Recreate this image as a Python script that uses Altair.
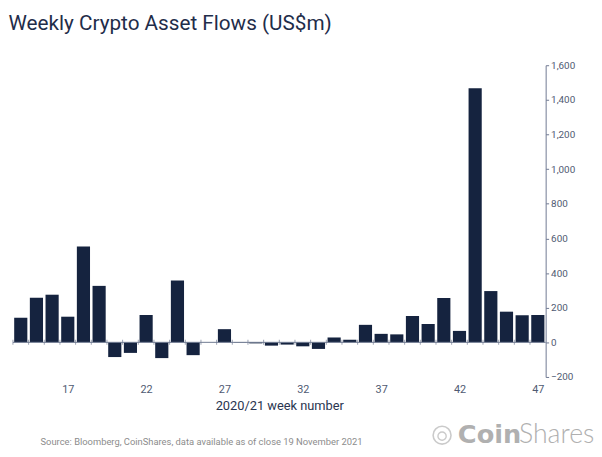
import altair as alt
import pandas as pd

weeks = list(range(14, 48))
flows = [142, 258, 275, 148, 554, 326, -85, -61, 158, -91, 357, -74, 0, 76,
         -2, -6, -19, -13, -23, -38, 28, 15, 101, 49, 46, 152, 106, 256, 66,
         1467, 296, 177, 156, 158]
x_label_weeks = [17, 22, 27, 32, 37, 42, 47]
y_ticks = [-200, 0, 200, 400, 600, 800, 1000, 1200, 1400, 1600]

title_text = "Weekly Crypto Asset Flows (US$m)"
x_title = "2020/21 week number"
source_text = "Source: Bloomberg, CoinShares, data available as of close 19 November 2021"

NAVY = "#15233f"
AXIS = "#6f7991"
LABEL = "#4f5a72"
FONT = "Roboto"

df = pd.DataFrame({"week": weeks, "flow": flows})

W, H = 540, 316
xscale = alt.Scale(domain=[13.5, 47.5], nice=False, zero=False)
yscale = alt.Scale(domain=[-200, 1600], nice=False, zero=False)

xaxis = alt.Axis(values=x_label_weeks, ticks=False, tickSize=0, domain=False,
                 grid=False, labelPadding=7, labelFontSize=11, labelColor=LABEL,
                 labelFont=FONT, title=x_title, titleFont=FONT, titleFontSize=13,
                 titleFontWeight="normal", titleColor="#2a3550", titlePadding=5)
yaxis = alt.Axis(orient="right", values=y_ticks, labelExpr="format(datum.value, ',')",
                 grid=False, domainColor=AXIS, tickColor=AXIS, tickSize=3, labelPadding=2,
                 labelFontSize=10, labelColor=LABEL, labelFont=FONT, title=None,
                 labelOverlap=False)

bars = alt.Chart(df).transform_calculate(
    x0="datum.week - 0.42", x1="datum.week + 0.42"
).mark_bar(color=NAVY).encode(
    x=alt.X("x0:Q", scale=xscale, axis=xaxis),
    x2="x1:Q",
    y=alt.Y("flow:Q", scale=yscale, axis=yaxis),
    y2=alt.datum(0),
)

zero_line = alt.Chart(pd.DataFrame({"v": [0]})).mark_rule(color=AXIS, strokeWidth=1).encode(
    x=alt.datum(13.5, scale=xscale, axis=xaxis), x2=alt.datum(47.5),
    y=alt.datum(0, scale=yscale, axis=yaxis)
)

ticks = alt.Chart(df).transform_calculate(
    b="datum.week - 0.5"
).mark_tick(orient="vertical", color=AXIS, size=5, thickness=1).encode(
    x=alt.X("b:Q", scale=xscale, axis=xaxis), y=alt.datum(0, scale=yscale, axis=yaxis)
)

source = alt.Chart(pd.DataFrame({"t": [source_text]})).mark_text(
    align="left", baseline="middle", font=FONT, fontSize=9.5, color="#8c8c8c"
).encode(x=alt.value(28), y=alt.value(382), text="t:N")

logo_icon = alt.Chart(pd.DataFrame({"t": [1]})).mark_point(
    shape="circle", size=330, filled=False, color="#b5b5b5", strokeWidth=1.6
).encode(x=alt.value(435), y=alt.value(375))

logo_inner = alt.Chart(pd.DataFrame({"t": [1]})).mark_point(
    shape="circle", size=70, filled=False, color="#b5b5b5", strokeWidth=1.4
).encode(x=alt.value(435), y=alt.value(376))

logo_coin = alt.Chart(pd.DataFrame({"t": ["Coin"]})).mark_text(
    align="left", baseline="middle", font="DejaVu Sans", fontSize=26, fontWeight="bold",
    color="#b0b0b0"
).encode(x=alt.value(451), y=alt.value(375), text="t:N")

logo_shares = alt.Chart(pd.DataFrame({"t": ["Shares"]})).mark_text(
    align="left", baseline="middle", font="Lato", fontSize=27, fontWeight=300, color="#b0b0b0"
).encode(x=alt.value(513), y=alt.value(375), text="t:N")

chart = alt.layer(bars, zero_line, ticks, source, logo_icon, logo_inner, logo_coin,
                  logo_shares).properties(
    width=W, height=H,
    title=alt.TitleParams(title_text, anchor="start", font=FONT, fontSize=21,
                          fontWeight="normal", color="#1f2d4a", dx=-4, offset=27),
    autosize=alt.AutoSizeParams(type="none"),
    padding={"left": 5, "top": 55, "right": 49, "bottom": 70},
).configure_view(stroke=None)

chart.save("out.html", embed_options={"renderer": "svg", "actions": False})
